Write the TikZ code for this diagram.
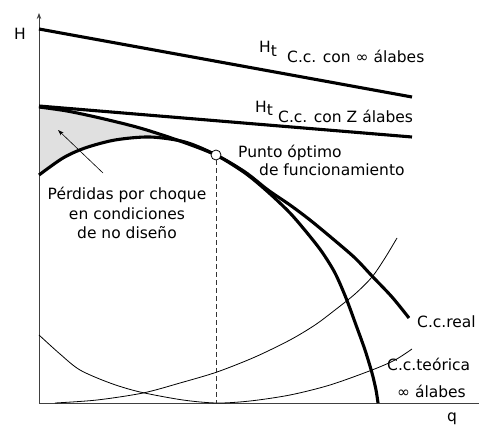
\documentclass[tikz,border=0pt]{standalone}
\usepackage{fontspec}
\setmainfont{DejaVu Sans}
\usetikzlibrary{arrows.meta}
\begin{document}
\begin{tikzpicture}[x=1pt,y=-1pt,
  thickc/.style={line width=3.1pt},
  thinc/.style={line width=0.8pt},
  axisline/.style={line width=0.8pt, black!75},
  lbl/.style={inner sep=0pt, anchor=base west, font=\fontsize{15.5}{19}\selectfont},
  lblc/.style={lbl, anchor=base},
  optpt/.style={circle, draw, thinc, fill=white, minimum size=10pt, inner sep=0pt}]
\useasboundingbox (0,0) rectangle (481,425);
% shaded region (shock losses)
\fill[black!12] plot[smooth] coordinates {(39,107) (67,111) (100,118) (140,128) (180,141) (216,155)}
  -- plot[smooth] coordinates {(216,155) (185,142) (150,137) (115,140) (85,148) (63,158) (39,175)} -- cycle;
% axes
\coordinate (O) at (39,403);
\coordinate (ytop) at (39,13);
\coordinate (xend) at (479,403);
\draw[axisline, -{Stealth[length=6pt,width=4.5pt]}] (O) -- (ytop);
\draw[axisline] (O) -- (xend);
% thin curves
\draw[thinc] plot[smooth] coordinates {(39,335) (60,354) (80,370) (110,383) (140,392) (183,400) (217,403) (250,401) (290,395) (330,385) (372,370) (395,360) (412,349)};
\draw[thinc] plot[smooth] coordinates {(55,403) (97,400) (143,393) (180,383) (217,372) (255,357) (290,340) (315,325) (335,310) (355,294) (372,277) (385,258) (397,238)};
% straight theoretical lines
\coordinate (inf1) at (39,29);
\coordinate (inf2) at (412,97);
\coordinate (z1) at (39,106);
\coordinate (z2) at (412,137);
\draw[thickc] (inf1) -- (inf2);
\draw[thickc] (z1) -- (z2);
% shock curve
\draw[thickc] plot[smooth] coordinates {(39,175) (63,158) (85,148) (115,140) (150,137) (185,142) (216,155) (245,173) (268,192) (290,213) (308,234) (322,252) (335,273) (346,298) (356,325) (365,350) (372,373) (376,390) (378,403)};
% real curve
\draw[thickc] plot[smooth] coordinates {(39,107) (67,111) (100,118) (140,128) (180,141) (216,155) (245,172) (268,190) (290,205) (310,220) (333,239) (355,258) (372,276) (392,297) (409,318)};
% optimum point
\node[optpt] (opt) at (216,155) {};
\coordinate (optq) at (216,403);
\draw[thinc, black!80, dash pattern=on 5pt off 3pt] (opt.south) -- (optq);
% pointer
\coordinate (ptail) at (103,173);
\coordinate (phead) at (58,130);
\draw[line width=0.6pt, -{Stealth[length=6pt,width=4pt]}] (ptail) -- (phead);
% labels
\node[lbl] (hlab) at (14,40) {H};
\node[lbl] (qlab) at (447,421) {q};
\node[lbl] (ht1) at (259,53) {H\raisebox{-4pt}{t}};
\node[lbl] (l1) at (287,63) {C.c. con ∞ álabes};
\node[lbl] (ht2) at (255,112) {H\raisebox{-3pt}{t}};
\node[lbl] (l2) at (278,122) {C.c. con Z álabes};
\node[lbl] (p1) at (238,157) {Punto óptimo};
\node[lbl] (p2) at (259,175) {de funcionamiento};
\node[lblc] (s1) at (127,199) {Pérdidas por choque};
\node[lblc] (s2) at (127,219) {en condiciones};
\node[lblc] (s3) at (127,238) {de no diseño};
\node[lbl] (r1) at (417,327) {C.c.real};
\node[lbl] (t1) at (387,370) {C.c.teórica};
\node[lbl] (t2) at (397,397) {∞ álabes};
\end{tikzpicture}
\end{document}
